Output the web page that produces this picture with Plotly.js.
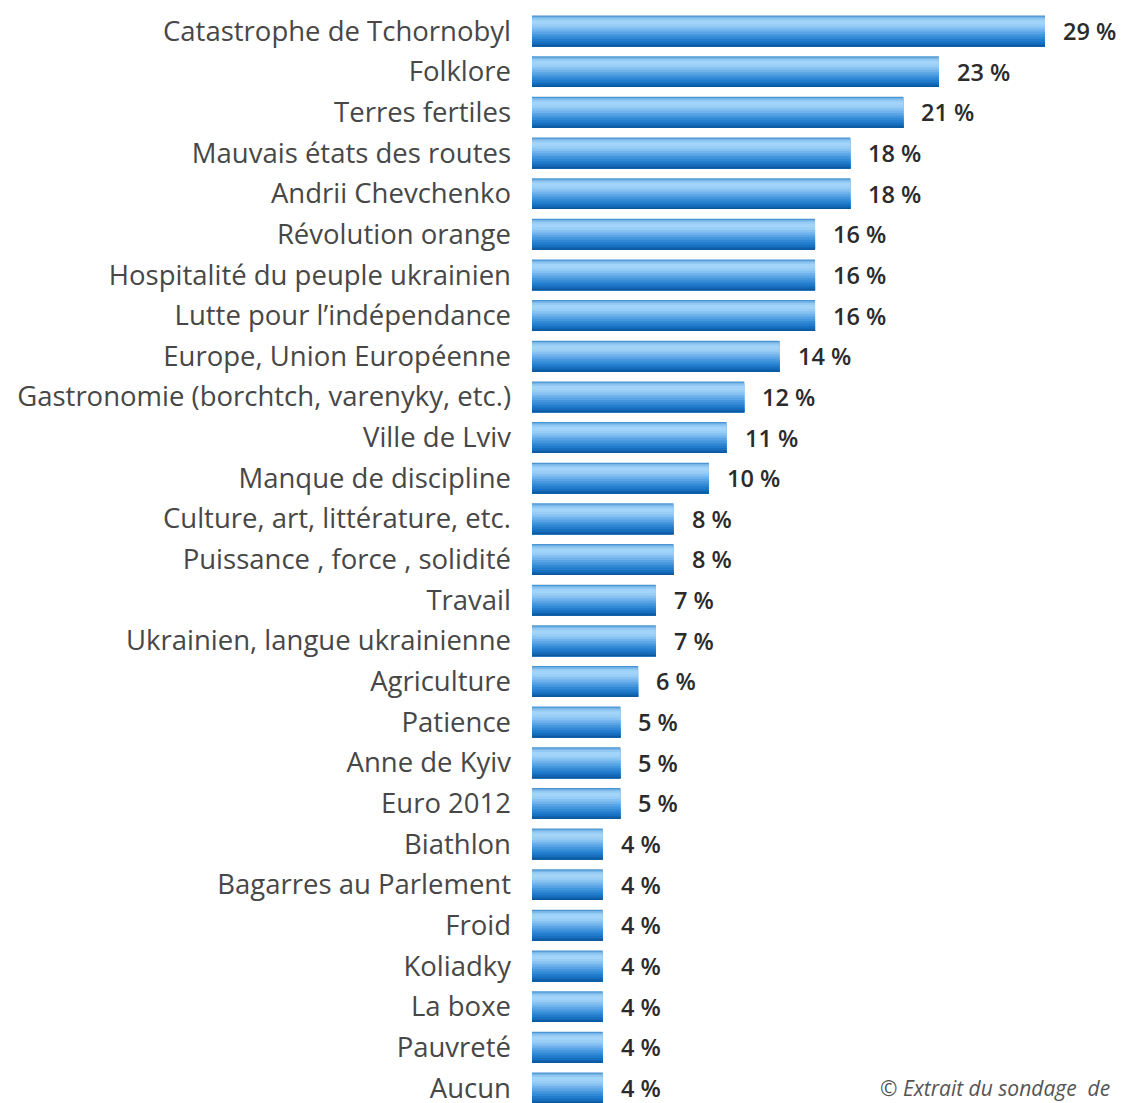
<!DOCTYPE html>
<html>
<head>
<meta charset="utf-8">
<script src="https://cdn.plot.ly/plotly-3.0.1.min.js"></script>
<style>html,body{margin:0;padding:0;background:#fff;overflow:hidden}#chart{width:1128px;height:1103px}</style>
</head>
<body>
<div id="chart"></div>
<script>
const categories = [
  "Catastrophe de Tchornobyl",
  "Folklore",
  "Terres fertiles",
  "Mauvais états des routes",
  "Andrii Chevchenko",
  "Révolution orange",
  "Hospitalité du peuple ukrainien",
  "Lutte pour l’indépendance",
  "Europe, Union Européenne",
  "Gastronomie (borchtch, varenyky, etc.)",
  "Ville de Lviv",
  "Manque de discipline",
  "Culture, art, littérature, etc.",
  "Puissance , force , solidité",
  "Travail",
  "Ukrainien, langue ukrainienne",
  "Agriculture",
  "Patience",
  "Anne de Kyiv",
  "Euro 2012",
  "Biathlon",
  "Bagarres au Parlement",
  "Froid",
  "Koliadky",
  "La boxe",
  "Pauvreté",
  "Aucun"
];
const values = [29, 23, 21, 18, 18, 16, 16, 16, 14, 12, 11, 10, 8, 8, 7, 7, 6, 5, 5, 5, 4, 4, 4, 4, 4, 4, 4];
const valueLabels = values.map(v => v + " %");
const footnote = "© Extrait du sondage  de";

// gradient bands: start fraction from top of bar, colour (each band runs to the bar bottom, later ones overlay)
const stripes = [
  [0.00, "#4a94d2"],
  [0.04, "#78b6e8"],
  [0.09, "#93c9f3"],
  [0.15, "#a2d3f8"],
  [0.28, "#98cdf5"],
  [0.36, "#86c1f1"],
  [0.44, "#70b2ec"],
  [0.52, "#5aa4e5"],
  [0.60, "#4496dd"],
  [0.68, "#3289d5"],
  [0.76, "#237dcc"],
  [0.84, "#1870c0"],
  [0.91, "#1064b0"],
  [0.96, "#0c569b"]
];
const W = 0.76;
const traces = stripes.map(s => ({
  type: "bar",
  orientation: "h",
  x: values,
  y: categories,
  width: (1 - s[0]) * W,
  offset: -W / 2 + s[0] * W,
  marker: {color: s[1], line: {width: 0}},
  hoverinfo: "skip",
  showlegend: false
}));

const plotL = 532, plotW = 1128 - 532, plotH = 1103;
const annotations = values.map((v, i) => ({
  x: v, y: categories[i], xref: "x", yref: "y",
  text: valueLabels[i], showarrow: false,
  xanchor: "left", yanchor: "middle", xshift: 16,
  font: {family: "'Open Sans', sans-serif", size: 23.5, color: "#2b2b2b", weight: 600}
}));
annotations.push({
  x: (878 - plotL) / plotW, y: 1 - 1088 / plotH, xref: "paper", yref: "paper",
  text: "<i>" + footnote + "</i>",
  showarrow: false, xanchor: "left", yanchor: "middle",
  font: {family: "'Open Sans', sans-serif", size: 21, color: "#555"}
});

const pitch = 40.65, firstY = 31;
const yTop = -firstY / pitch;
const yBottom = yTop + plotH / pitch;

const layout = {
  width: 1128, height: 1103,
  margin: {l: 532, r: 0, t: 0, b: 0, pad: 0},
  paper_bgcolor: "#fff", plot_bgcolor: "#fff",
  barmode: "overlay",
  xaxis: {range: [0, plotW / 17.69], visible: false, fixedrange: true},
  yaxis: {
    type: "category", range: [yBottom, yTop],
    showgrid: false, zeroline: false, showline: false, ticks: "",
    ticklabelstandoff: 20,
    tickfont: {family: "'Open Sans', sans-serif", size: 27.5, color: "#474747"}
  },
  annotations: annotations,
  font: {family: "'Open Sans', sans-serif"}
};

Plotly.newPlot("chart", traces, layout, {staticPlot: true, displayModeBar: false});
</script>
</body>
</html>
